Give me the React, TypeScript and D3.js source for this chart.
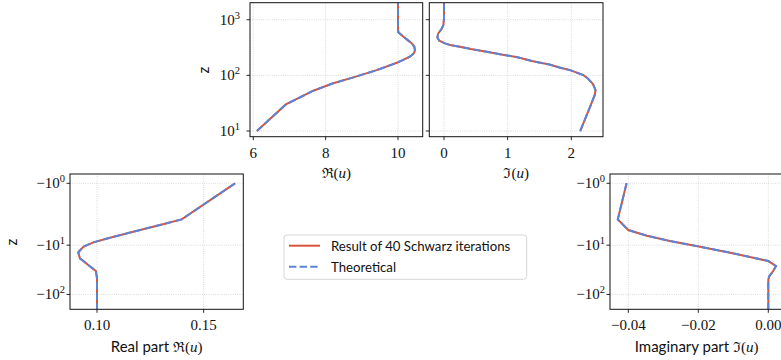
import React from "react";
import * as d3 from "d3";

// ---------- data ----------
// Atmosphere (top row): altitude z (log scale)
const atmZRe = [10, 30, 53, 72, 92, 124, 168, 216, 250, 284, 330, 376, 430, 494, 592, 700, 1000, 2000];
const atmRe = [6.1, 6.9, 7.66, 8.21, 8.77, 9.41, 9.97, 10.33, 10.44, 10.47, 10.45, 10.38, 10.27, 10.15, 10.01, 10.0, 10.0, 10.0];
const atmZIm = [10, 30, 45, 55, 70, 88, 101, 124, 140, 157, 181, 210, 238, 266, 298, 327, 350, 376, 418, 480, 568, 680, 800, 1055, 2000];
const atmIm = [2.14, 2.31, 2.37, 2.38, 2.34, 2.26, 2.19, 1.98, 1.8, 1.655, 1.38, 1.17, 0.9, 0.67, 0.42, 0.25, 0.1, 0.016, -0.074, -0.105, -0.09, -0.04, -0.01, 0.0, 0.0];
// Ocean (bottom row): depth z (negative, symlog scale)
const ocnZRe = [-1, -3, -3.9, -5.34, -7.06, -8.76, -10.76, -13.96, -18.5, -25.3, -33.5, -47, -200];
const ocnRe = [0.1647, 0.1397, 0.1295, 0.117, 0.1061, 0.0983, 0.0936, 0.0912, 0.092, 0.0959, 0.0995, 0.1, 0.1];
const ocnZIm = [-1, -3, -4.93, -6.43, -8.24, -10.76, -14.2, -18, -21, -26.5, -33.5, -42.3, -50, -200];
const ocnIm = [-0.0405, -0.043, -0.04, -0.0347, -0.0281, -0.0195, -0.0109, -0.0043, 0.0, 0.0022, 0.0014, 0.0003, 0.0, 0.0];

// ticks
const tlXTicks = [6, 8, 10];
const tlXLabels = ["6", "8", "10"];
const trXTicks = [0, 1, 2];
const trXLabels = ["0", "1", "2"];
const blXTicks = [0.1, 0.15];
const blXLabels = ["0.10", "0.15"];
const brXTicks = [-0.04, -0.02, 0.0];
const brXLabels = ["\u22120.04", "\u22120.02", "0.00"];
const topYTicks = [10, 100, 1000];
const topYExp = ["1", "2", "3"];
const botYTicks = [-1, -10, -100];
const botYExp = ["0", "1", "2"];

const legendLabels = ["Result of 40 Schwarz iterations", "Theoretical"];

// ---------- style ----------
const RED = "#d9533b";
const BLUE = "#5b84d6";
const SERIF = "'Liberation Serif', 'DejaVu Serif', serif";
const SANS = "Lato, 'Liberation Sans', sans-serif";
const TICKFS = 15;

// symlog transform (linthresh 2, base 10, linscale 1)
const LT = 2;
const LS = 1 / (1 - 1 / 10);
const symlog = (v: number) => {
  const a = Math.abs(v);
  const s = Math.sign(v);
  return a <= LT ? v * LS : s * LT * (LS + Math.log10(a / LT));
};

type Box = { L: number; R: number; T: number; B: number };

const TL: Box = { L: 250, R: 422.7, T: 2.7, B: 136.7 };
const TR: Box = { L: 429.3, R: 603, T: 2.7, B: 136.7 };
const BL: Box = { L: 70, R: 243.3, T: 174, B: 309.3 };
const BR: Box = { L: 610, R: 783.3, T: 174, B: 309.3 };

const tlX = d3.scaleLinear().domain([5.909, 10.683]).range([TL.L, TL.R]);
const trX = d3.scaleLinear().domain([-0.231, 2.498]).range([TR.L, TR.R]);
const topY = d3.scaleLog().domain([7.9, 2021]).range([TL.B, TL.T]);
const blX = d3.scaleLinear().domain([0.08734, 0.16858]).range([BL.L, BL.R]);
const brX = d3.scaleLinear().domain([-0.04523, 0.004286]).range([BR.L, BR.R]);
const botYT = d3.scaleLinear().domain([symlog(-0.66), symlog(-200)]).range([BL.T, BL.B]);
const botY = (v: number) => botYT(symlog(v));

function Curve({ xs, zs, xScale, yScale }: any) {
  const pts: [number, number][] = xs.map((x: number, i: number) => [xScale(x), yScale(zs[i])]);
  const line = d3.line();
  const d = line(pts) || "";
  return (
    <g>
      <path d={d} fill="none" stroke={RED} strokeWidth={2} />
      <path d={d} fill="none" stroke={BLUE} strokeWidth={2} strokeDasharray="7.4,3.2" />
    </g>
  );
}

function Panel({ id, box, xScale, yScale, xTicks, xLabels, yTicks, yExp, yNeg, showYLabels, curves, xLabel }: any) {
  const { L, R, T, B } = box;
  return (
    <g>
      <defs>
        <clipPath id={id}>
          <rect x={L} y={T} width={R - L} height={B - T} />
        </clipPath>
      </defs>
      {/* grid */}
      <g stroke="#c8c8c8" strokeWidth={0.8} strokeDasharray="0.8,1.4">
        {xTicks.map((t: number, i: number) => (
          <line key={"gx" + i} x1={xScale(t)} x2={xScale(t)} y1={T} y2={B} />
        ))}
        {yTicks.map((t: number, i: number) => (
          <line key={"gy" + i} x1={L} x2={R} y1={yScale(t)} y2={yScale(t)} />
        ))}
      </g>
      <g clipPath={`url(#${id})`}>
        {curves.map((c: any, i: number) => (
          <Curve key={i} xs={c.xs} zs={c.zs} xScale={xScale} yScale={yScale} />
        ))}
      </g>
      <rect x={L} y={T} width={R - L} height={B - T} fill="none" stroke="#111" strokeWidth={1} />
      {/* x ticks */}
      {xTicks.map((t: number, i: number) => (
        <g key={"xt" + i}>
          <line x1={xScale(t)} x2={xScale(t)} y1={B} y2={B + 3.5} stroke="#111" strokeWidth={0.9} />
          <text x={xScale(t)} y={B + 21} textAnchor="middle" fontFamily={SERIF} fontSize={TICKFS} fill="#111">
            {xLabels[i]}
          </text>
        </g>
      ))}
      {/* y ticks */}
      {yTicks.map((t: number, i: number) => (
        <g key={"yt" + i}>
          <line x1={L - 3.5} x2={L} y1={yScale(t)} y2={yScale(t)} stroke="#111" strokeWidth={0.9} />
          {showYLabels && (
            <text x={L - (yNeg ? 5 : 10)} y={yScale(t) + 5} textAnchor="end" fontFamily={SERIF} fontSize={TICKFS} fill="#111">
              <tspan>{yNeg ? "\u221210" : "10"}</tspan>
              <tspan dy={-6} fontSize={TICKFS * 0.7}>{yExp[i]}</tspan>
            </text>
          )}
        </g>
      ))}
      {xLabel}
    </g>
  );
}

function MathLabel({ x, y, prefix, sym }: any) {
  return (
    <text x={x} y={y} textAnchor="middle" fontSize={15} fill="#111">
      {prefix && <tspan fontFamily={SANS}>{prefix}</tspan>}
      <tspan fontFamily="'DejaVu Serif', serif" fontSize={14}>{sym}</tspan>
      <tspan fontFamily={SERIF}>(</tspan>
      <tspan fontFamily={SERIF} fontStyle="italic">u</tspan>
      <tspan fontFamily={SERIF}>)</tspan>
    </text>
  );
}

export default function App() {
  return (
    <svg width={781} height={360} style={{ position: "absolute", left: 0, top: 0, background: "#fff" }}>
      <rect x={0} y={0} width={781} height={360} fill="#fff" />
      <Panel
        id="cTL" box={TL} xScale={tlX} yScale={topY}
        xTicks={tlXTicks} xLabels={tlXLabels} yTicks={topYTicks} yExp={topYExp} yNeg={false} showYLabels={true}
        curves={[{ xs: atmRe, zs: atmZRe }]}
        xLabel={<MathLabel x={(TL.L + TL.R) / 2} y={178} sym={"\u211C"} />}
      />
      <Panel
        id="cTR" box={TR} xScale={trX} yScale={topY}
        xTicks={trXTicks} xLabels={trXLabels} yTicks={topYTicks} yExp={topYExp} yNeg={false} showYLabels={false}
        curves={[{ xs: atmIm, zs: atmZIm }]}
        xLabel={<MathLabel x={(TR.L + TR.R) / 2} y={178} sym={"\u2111"} />}
      />
      <Panel
        id="cBL" box={BL} xScale={blX} yScale={botY}
        xTicks={blXTicks} xLabels={blXLabels} yTicks={botYTicks} yExp={botYExp} yNeg={true} showYLabels={true}
        curves={[{ xs: ocnRe, zs: ocnZRe }]}
        xLabel={<MathLabel x={(BL.L + BL.R) / 2} y={352} prefix={"Real part "} sym={"\u211C"} />}
      />
      <Panel
        id="cBR" box={BR} xScale={brX} yScale={botY}
        xTicks={brXTicks} xLabels={brXLabels} yTicks={botYTicks} yExp={botYExp} yNeg={true} showYLabels={true}
        curves={[{ xs: ocnIm, zs: ocnZIm }]}
        xLabel={<MathLabel x={(BR.L + BR.R) / 2} y={352} prefix={"Imaginary part "} sym={"\u2111"} />}
      />
      {/* y-axis labels */}
      <text transform={`translate(209,70) rotate(-90)`} textAnchor="middle" fontFamily={SANS} fontSize={15} fill="#111">z</text>
      <text transform={`translate(17,242) rotate(-90)`} textAnchor="middle" fontFamily={SANS} fontSize={15} fill="#111">z</text>
      {/* legend */}
      <g>
        <rect x={284} y={235} width={242.7} height={44.3} rx={3} fill="#fff" stroke="#d6d6d6" strokeWidth={1} />
        <line x1={289} x2={320} y1={245.7} y2={245.7} stroke={RED} strokeWidth={2} />
        <line x1={289} x2={320} y1={266.7} y2={266.7} stroke={BLUE} strokeWidth={2} strokeDasharray="7.4,3.2" />
        <text x={331} y={250.5} fontFamily={SANS} fontSize={13.2} fill="#111">{legendLabels[0]}</text>
        <text x={331} y={271.5} fontFamily={SANS} fontSize={13.2} fill="#111">{legendLabels[1]}</text>
      </g>
    </svg>
  );
}
